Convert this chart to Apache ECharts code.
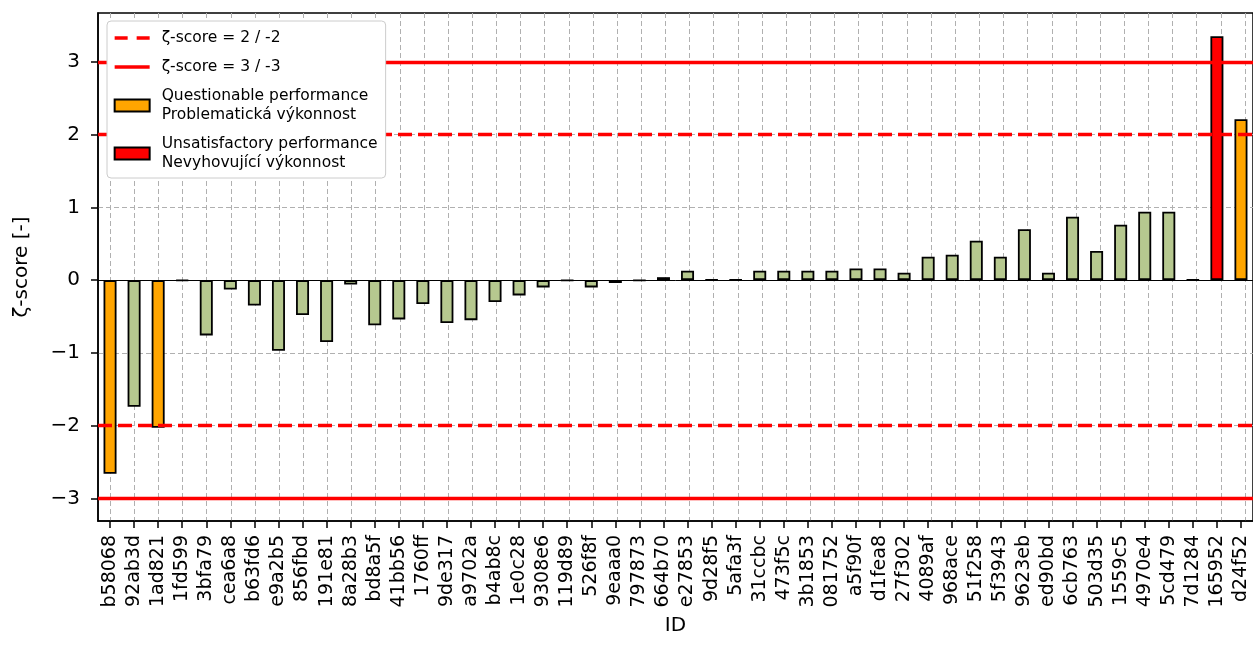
<!DOCTYPE html>
<html>
<head>
<meta charset="utf-8">
<script src="https://cdn.jsdelivr.net/npm/echarts@6/dist/echarts.min.js"></script>
<style>
html,body{margin:0;padding:0;background:#fff;}
#chart{width:1253px;height:662px;}
</style>
</head>
<body>
<div id="chart"></div>
<script>
const categories = ['b58068','92ab3d','1ad821','1fd599','3bfa79','cea6a8','b63fd6','e9a2b5','856fbd','191e81','8a28b3','bd8a5f','41bb56','1760ff','9de317','a9702a','b4ab8c','1e0c28','9308e6','119d89','526f8f','9eaaa0','797873','664b70','e27853','9d28f5','5afa3f','31ccbc','473f5c','3b1853','081752','a5f90f','d1fea8','27f302','4089af','968ace','51f258','5f3943','9623eb','ed90bd','6cb763','503d35','1559c5','4970e4','5cd479','7d1284','165952','d24f52'];
const zScores = [-2.66,-1.74,-2.03,-0.01,-0.76,-0.13,-0.35,-0.97,-0.48,-0.85,-0.06,-0.62,-0.54,-0.33,-0.59,-0.55,-0.30,-0.21,-0.10,-0.005,-0.10,-0.04,-0.005,0.04,0.13,0.005,0.005,0.13,0.13,0.13,0.13,0.16,0.16,0.10,0.32,0.35,0.54,0.32,0.70,0.10,0.87,0.40,0.76,0.94,0.94,0.005,3.35,2.21];
const yTicks = [-3,-2,-1,0,1,2,3];
const warnLimits = [2,-2];
const actionLimits = [3,-3];

const GREEN = '#b6c88f', ORANGE = '#FFA500', RED = '#FF0000';
const FONT = 'DejaVu Sans';
const NAME_Q = 'Questionable performance\nProblematická výkonnost';
const NAME_U = 'Unsatisfactory performance\nNevyhovující výkonnost';
const NAME_2 = 'ζ-score = 2 / -2';
const NAME_3 = 'ζ-score = 3 / -3';

function colorFor(v){ const a=Math.abs(v); return a>=3?RED:(a>=2?ORANGE:GREEN); }
function fmt(v){ return v<0 ? '\u2212'+Math.abs(v) : String(v); }

const chart = echarts.init(document.getElementById('chart'), null, {renderer:'canvas'});
const gridTop = 13, gridH = 508, gridLeft = 98, gridW = 1159;
const band = gridW / categories.length;
const BORDER = 1.8;
const DASH = [14,6];
const LW = 3.3;
const GRID_DASH = [5,3];

chart.setOption({
  animation:false,
  backgroundColor:'#fff',
  textStyle:{fontFamily:FONT},
  grid:[
    {left:gridLeft, top:gridTop, width:gridW, height:gridH, show:true, borderColor:'#000', borderWidth:1.5, backgroundColor:'transparent'},
    {left:gridLeft+band/2, top:gridTop, width:gridW-band, height:gridH, show:false}
  ],
  xAxis:[
    {type:'category', gridIndex:0, data:categories, boundaryGap:true,
     name:'ID', nameLocation:'middle', nameGap:95,
     nameTextStyle:{fontSize:20, color:'#000', fontFamily:FONT},
     axisLine:{show:true, onZero:false, lineStyle:{color:'#000', width:1.5}},
     axisTick:{show:true, alignWithLabel:true, length:7, lineStyle:{color:'#000', width:1.5}},
     axisLabel:{rotate:90, interval:0, fontSize:19, color:'#000', margin:14, fontFamily:FONT},
     splitLine:{show:false}},
    {type:'value', gridIndex:1, min:0, max:categories.length-1, interval:1,
     axisLine:{show:false}, axisTick:{show:false}, axisLabel:{show:false},
     splitLine:{show:true, lineStyle:{color:'#b0b0b0', width:1, type:GRID_DASH}}}
  ],
  yAxis:[
    {type:'value', gridIndex:0, min:-3.31, max:3.67, splitNumber:7,
     name:'ζ-score [-]', nameLocation:'middle', nameGap:66, nameRotate:90,
     nameTextStyle:{fontSize:20, color:'#000', fontFamily:FONT},
     axisLine:{show:true, lineStyle:{color:'#000', width:1.5}},
     axisTick:{show:true, length:7, lineStyle:{color:'#000', width:1.5}, customValues:yTicks},
     axisLabel:{fontSize:20, color:'#000', margin:18, formatter:fmt, customValues:yTicks, fontFamily:FONT},
     splitLine:{show:true, lineStyle:{color:'#b0b0b0', width:1, type:GRID_DASH}}},
    {type:'value', gridIndex:1, min:0, max:1, show:false, splitLine:{show:false}}
  ],
  legend:{
    show:true, orient:'vertical', left:107, top:21, z:20,
    padding:[9,8,7,6], itemGap:13, itemWidth:35, itemHeight:12,
    backgroundColor:'#ffffff', borderColor:'#cccccc', borderWidth:1, borderRadius:4,
    formatter:function(name){ return name.split('\n').map(s=>'{t|'+s+'}').join('\n'); },
    textStyle:{fontSize:15.5, color:'#000', fontFamily:FONT,
      rich:{t:{fontSize:15.5, lineHeight:19, padding:[0,0,0,7], fontFamily:FONT, color:'#000'}}},
    data:[
      {name:NAME_2, itemStyle:{opacity:0}, lineStyle:{color:RED, width:LW, type:[13,9]}},
      {name:NAME_3, itemStyle:{opacity:0}, lineStyle:{color:RED, width:LW, type:'solid'}},
      {name:NAME_Q, icon:'rect'},
      {name:NAME_U, icon:'rect'}
    ]
  },
  series:[
    {name:NAME_2, type:'line', xAxisIndex:0, yAxisIndex:0, data:[], symbol:'none', z:1,
     lineStyle:{color:RED, width:LW, type:DASH}, itemStyle:{color:RED},
     markLine:{silent:true, symbol:'none', label:{show:false},
       lineStyle:{color:RED, width:LW, type:DASH},
       data:warnLimits.map(v=>({yAxis:v}))}},
    {name:NAME_3, type:'line', xAxisIndex:0, yAxisIndex:0, data:[], symbol:'none', z:1,
     lineStyle:{color:RED, width:LW, type:'solid'}, itemStyle:{color:RED},
     markLine:{silent:true, symbol:'none', label:{show:false},
       lineStyle:{color:RED, width:LW, type:'solid'},
       data:actionLimits.map(v=>({yAxis:v})).concat([{yAxis:0, lineStyle:{color:'#000', width:1, type:'solid'}}])}},
    {name:'z', type:'bar', xAxisIndex:0, yAxisIndex:0, stack:'s', barWidth:13, z:2,
     data:zScores.map(v=>({value:v, itemStyle:{color:colorFor(v), borderColor:'#000', borderWidth:BORDER}}))},
    {name:NAME_Q, type:'bar', xAxisIndex:0, yAxisIndex:0, stack:'s', barWidth:13, data:[],
     itemStyle:{color:ORANGE, borderColor:'#000', borderWidth:BORDER}},
    {name:NAME_U, type:'bar', xAxisIndex:0, yAxisIndex:0, stack:'s', barWidth:13, data:[],
     itemStyle:{color:RED, borderColor:'#000', borderWidth:BORDER}}
  ]
});
</script>
</body>
</html>
